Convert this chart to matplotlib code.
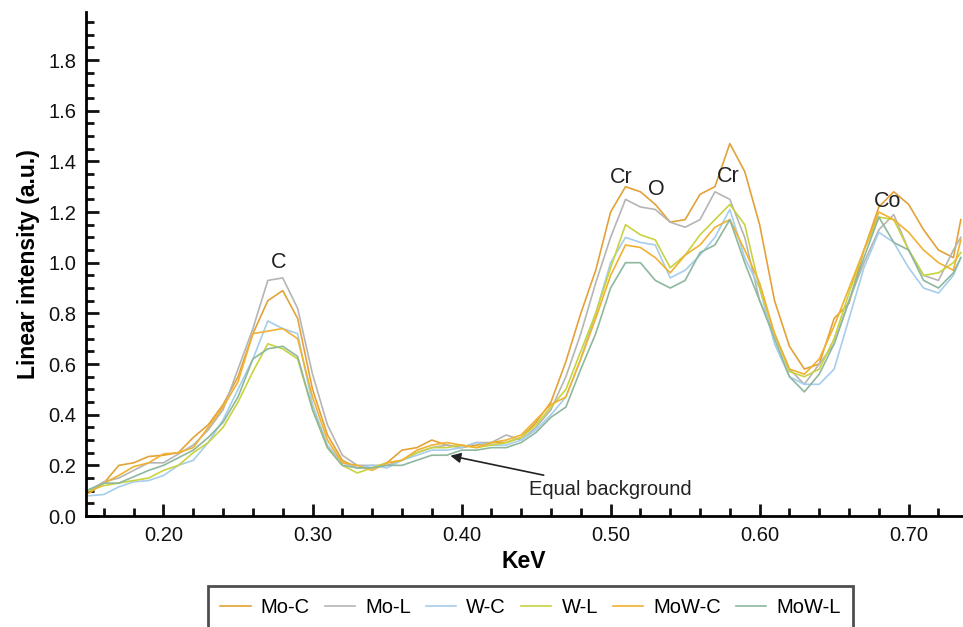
import matplotlib
matplotlib.use("Agg")
import matplotlib.pyplot as plt
from matplotlib.ticker import MultipleLocator, FormatStrFormatter

plt.rcParams['font.family'] = ['Liberation Sans', 'DejaVu Sans']

kev = [0.15, 0.16, 0.17, 0.18, 0.19, 0.20, 0.21, 0.22, 0.23, 0.24,
       0.25, 0.26, 0.27, 0.28, 0.29, 0.30, 0.31, 0.32, 0.33, 0.34,
       0.35, 0.36, 0.37, 0.38, 0.39, 0.40, 0.41, 0.42, 0.43, 0.44,
       0.45, 0.46, 0.47, 0.48, 0.49, 0.50, 0.51, 0.52, 0.53, 0.54,
       0.55, 0.56, 0.57, 0.58, 0.59, 0.60, 0.61, 0.62, 0.63, 0.64,
       0.65, 0.66, 0.67, 0.68, 0.69, 0.70, 0.71, 0.72, 0.73, 0.735]

mo_c = [0.10, 0.13, 0.20, 0.21, 0.235, 0.24, 0.25, 0.31, 0.36, 0.44,
        0.55, 0.72, 0.85, 0.89, 0.78, 0.50, 0.32, 0.22, 0.19, 0.19,
        0.21, 0.26, 0.27, 0.30, 0.28, 0.27, 0.28, 0.29, 0.29, 0.31,
        0.37, 0.45, 0.61, 0.80, 0.97, 1.20, 1.30, 1.28, 1.23, 1.16,
        1.17, 1.27, 1.30, 1.47, 1.36, 1.15, 0.85, 0.67, 0.58, 0.60,
        0.78, 0.84, 1.05, 1.22, 1.28, 1.23, 1.13, 1.05, 1.02, 1.17]

mo_l = [0.10, 0.135, 0.15, 0.18, 0.21, 0.21, 0.245, 0.28, 0.34, 0.42,
        0.58, 0.74, 0.93, 0.94, 0.82, 0.56, 0.36, 0.24, 0.20, 0.20,
        0.20, 0.22, 0.25, 0.27, 0.28, 0.27, 0.29, 0.29, 0.32, 0.30,
        0.35, 0.42, 0.55, 0.72, 0.92, 1.10, 1.25, 1.22, 1.21, 1.16,
        1.14, 1.17, 1.28, 1.25, 1.10, 0.85, 0.72, 0.58, 0.52, 0.60,
        0.68, 0.85, 1.00, 1.13, 1.19, 1.05, 0.95, 0.93, 1.05, 1.10]

w_c = [0.08, 0.085, 0.115, 0.135, 0.14, 0.16, 0.20, 0.22, 0.29, 0.38,
       0.50, 0.62, 0.77, 0.74, 0.72, 0.44, 0.28, 0.21, 0.19, 0.20,
       0.19, 0.22, 0.24, 0.26, 0.26, 0.27, 0.29, 0.28, 0.28, 0.30,
       0.34, 0.40, 0.47, 0.62, 0.80, 1.00, 1.10, 1.08, 1.07, 0.94,
       0.97, 1.03, 1.10, 1.21, 1.02, 0.90, 0.68, 0.55, 0.52, 0.52,
       0.58, 0.78, 0.98, 1.12, 1.08, 0.98, 0.90, 0.88, 0.95, 1.02]

w_l = [0.10, 0.12, 0.13, 0.14, 0.15, 0.18, 0.20, 0.25, 0.29, 0.35,
       0.45, 0.57, 0.68, 0.66, 0.62, 0.42, 0.27, 0.20, 0.17, 0.19,
       0.21, 0.22, 0.25, 0.27, 0.27, 0.28, 0.27, 0.28, 0.29, 0.31,
       0.36, 0.43, 0.50, 0.65, 0.80, 0.98, 1.15, 1.11, 1.09, 0.98,
       1.03, 1.11, 1.17, 1.23, 1.15, 0.90, 0.72, 0.57, 0.55, 0.58,
       0.70, 0.88, 1.05, 1.18, 1.17, 1.05, 0.95, 0.96, 1.00, 1.04]

mow_c = [0.09, 0.13, 0.16, 0.195, 0.21, 0.245, 0.25, 0.27, 0.35, 0.43,
         0.53, 0.72, 0.73, 0.74, 0.70, 0.47, 0.30, 0.21, 0.20, 0.18,
         0.21, 0.22, 0.26, 0.28, 0.29, 0.28, 0.27, 0.29, 0.30, 0.32,
         0.38, 0.44, 0.47, 0.62, 0.78, 0.95, 1.07, 1.06, 1.02, 0.96,
         1.03, 1.07, 1.14, 1.17, 1.05, 0.92, 0.72, 0.58, 0.56, 0.62,
         0.75, 0.90, 1.05, 1.20, 1.17, 1.12, 1.05, 1.00, 0.97, 1.09]

mow_l = [0.105, 0.13, 0.13, 0.155, 0.18, 0.20, 0.23, 0.26, 0.31, 0.37,
         0.47, 0.62, 0.66, 0.67, 0.63, 0.42, 0.27, 0.20, 0.19, 0.19,
         0.20, 0.20, 0.22, 0.24, 0.24, 0.26, 0.26, 0.27, 0.27, 0.29,
         0.33, 0.39, 0.43, 0.58, 0.72, 0.90, 1.00, 1.00, 0.93, 0.90,
         0.93, 1.04, 1.07, 1.17, 1.00, 0.85, 0.70, 0.55, 0.49, 0.56,
         0.68, 0.85, 1.02, 1.18, 1.08, 1.05, 0.93, 0.90, 0.96, 1.02]

names = ['Mo-C', 'Mo-L', 'W-C', 'W-L', 'MoW-C', 'MoW-L']
series = [mo_c, mo_l, w_c, w_l, mow_c, mow_l]
colors = ['#E3A238', '#B5B5B5', '#A6CDEC', '#C8D33E', '#F0B232', '#8DB89E']

peaks = [('C', 0.277, 1.00), ('Cr', 0.507, 1.335), ('O', 0.531, 1.29),
         ('Cr', 0.579, 1.34), ('Co', 0.686, 1.24)]

fig = plt.figure(figsize=(9.63, 6.27), dpi=100)
ax = fig.add_axes([0.0893, 0.177, 0.91, 0.804])

for name, vals, col in zip(names, series, colors):
    ax.plot(kev, vals, color=col, lw=1.2, label=name)

for txt, x, y in peaks:
    ax.text(x, y, txt, ha='center', va='center', fontsize=15.5, color='#222222')

ax.annotate('Equal background', xy=(0.3925, 0.238), xytext=(0.4455, 0.106),
            fontsize=14.5, color='#222222', va='center', ha='left',
            arrowprops=dict(arrowstyle='-|>', color='#222222', lw=1.2,
                            shrinkA=6, shrinkB=0, mutation_scale=15))

ax.set_xlim(0.148, 0.736)
ax.set_ylim(0, 1.99)
ax.xaxis.set_major_locator(MultipleLocator(0.1))
ax.xaxis.set_minor_locator(MultipleLocator(0.02))
ax.yaxis.set_major_locator(MultipleLocator(0.2))
ax.yaxis.set_minor_locator(MultipleLocator(0.05))
ax.xaxis.set_major_formatter(FormatStrFormatter('%.2f'))
ax.yaxis.set_major_formatter(FormatStrFormatter('%.1f'))

for s in ['top', 'right']:
    ax.spines[s].set_visible(False)
for s in ['left', 'bottom']:
    ax.spines[s].set_linewidth(2)
ax.tick_params(which='both', direction='in', width=2, labelsize=14.5, colors='#111111')
ax.tick_params(which='major', length=9)
ax.tick_params(which='minor', length=6)
ax.tick_params(axis='x', pad=7)
ax.tick_params(axis='y', pad=7)

ax.set_xlabel('KeV', fontsize=16.5, fontweight='bold', labelpad=4)
ax.set_ylabel('Linear intensity (a.u.)', fontsize=16.5, fontweight='bold', labelpad=6)

leg = fig.legend(loc='upper center', bbox_to_anchor=(0.551, 0.066), ncol=6,
                 fontsize=14.5, frameon=True, fancybox=False, edgecolor='#222222',
                 handlelength=1.5, columnspacing=0.75, handletextpad=0.5,
                 borderpad=0.6, borderaxespad=0)
leg.get_frame().set_linewidth(2)

fig.savefig('out.png', dpi=100)
